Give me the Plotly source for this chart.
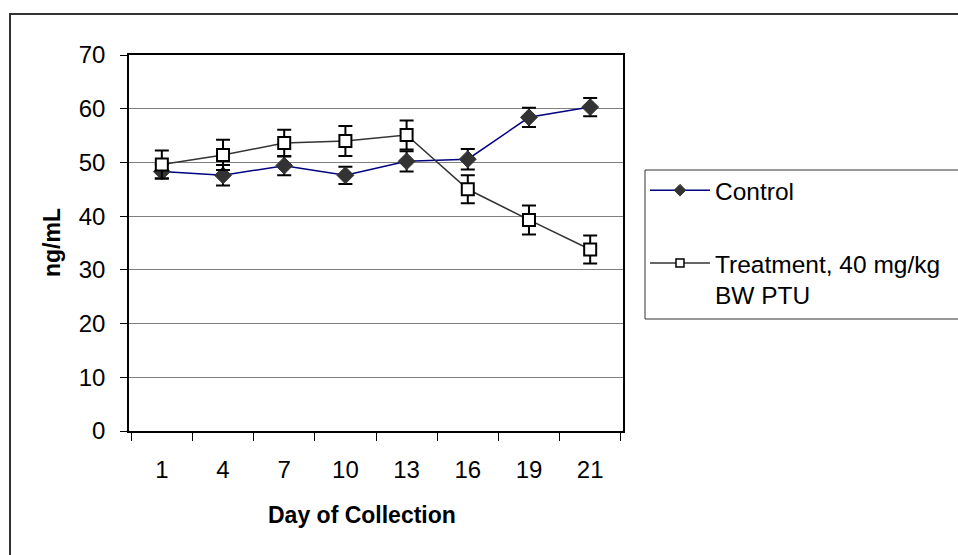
import plotly.graph_objects as go

days = ["1", "4", "7", "10", "13", "16", "19", "21"]
control = [48.3, 47.6, 49.4, 47.6, 50.2, 50.6, 58.4, 60.3]
control_err = [1.3, 1.9, 1.8, 1.6, 1.9, 1.9, 1.8, 1.7]
treatment = [49.6, 51.4, 53.6, 54.0, 55.1, 45.0, 39.3, 33.8]
treatment_err = [2.6, 2.8, 2.5, 2.8, 2.7, 2.6, 2.7, 2.6]
y_ticks = [0, 10, 20, 30, 40, 50, 60, 70]
names = ["Control", "Treatment, 40 mg/kg<br>BW PTU"]

FONT = "Liberation Sans, Arial, sans-serif"

ctrl_line = dict(color="#000080", width=1.5)
trt_line = dict(color="#333333", width=1.5)
ctrl_marker = dict(symbol="diamond", color="#333333", line=dict(color="#333333", width=1))
trt_marker = dict(symbol="square", color="white", line=dict(color="black", width=1.5))

fig = go.Figure()
fig.add_trace(go.Scatter(
    x=days, y=control, name=names[0], mode="lines+markers",
    showlegend=False, line=ctrl_line, marker=dict(size=13, **ctrl_marker),
    error_y=dict(type="data", array=control_err, visible=True,
                 color="black", thickness=2, width=7),
))
fig.add_trace(go.Scatter(
    x=days, y=treatment, name=names[1], mode="lines+markers",
    showlegend=False, line=trt_line,
    marker=dict(size=12, symbol="square", color="white",
                line=dict(color="black", width=2)),
    error_y=dict(type="data", array=treatment_err, visible=True,
                 color="black", thickness=2, width=7),
))
# legend entries (smaller symbols, as in the reference legend)
fig.add_trace(go.Scatter(
    x=[None], y=[None], name=names[0], mode="lines+markers",
    legendgroup="c", line=ctrl_line, marker=dict(size=9, **ctrl_marker),
))
fig.add_trace(go.Scatter(
    x=[None], y=[None], name=names[1], mode="lines+markers",
    legendgroup="t", line=trt_line, marker=dict(size=8, **trt_marker),
))

fig.update_layout(
    width=958, height=555,
    margin=dict(l=129, r=335, t=55, b=124),
    paper_bgcolor="white", plot_bgcolor="white",
    font=dict(family=FONT, size=24, color="black"),
    showlegend=True,
    legend=dict(
        x=1.0445, xanchor="left", y=0.70, yanchor="top",
        borderwidth=0, bgcolor="rgba(0,0,0,0)",
        traceorder="grouped", tracegroupgap=38, valign="top",
        itemwidth=60, font=dict(family=FONT, size=24.5, color="black"),
    ),
    xaxis=dict(
        type="category", categoryorder="array", categoryarray=days,
        tickson="boundaries", ticks="outside", ticklen=8, tickcolor="black",
        showline=True, linecolor="black", linewidth=1.5, mirror=True,
        showgrid=False, ticklabelstandoff=16,
        tickfont=dict(family=FONT, size=24),
    ),
    yaxis=dict(
        range=[0, 70], tickvals=y_ticks, ticks="outside", ticklen=7,
        tickcolor="black", showline=True, linecolor="black", linewidth=1.5,
        mirror=True, showgrid=True, gridcolor="#808080", gridwidth=1,
        zeroline=False, ticklabelstandoff=10,
        tickfont=dict(family=FONT, size=24),
    ),
    annotations=[
        dict(text="<b>Day of Collection</b>", xref="paper", yref="paper",
             x=(362 - 129) / 494, y=-(515 - 431) / 376, showarrow=False,
             xanchor="center", yanchor="middle",
             font=dict(family=FONT, size=23)),
        dict(text="<b>ng/mL</b>", xref="paper", yref="paper",
             x=-(129 - 52) / 494, y=0.5, textangle=-90, showarrow=False,
             xanchor="center", yanchor="middle",
             font=dict(family=FONT, size=23)),
    ],
    shapes=[
        # outer chart border
        dict(type="rect", xref="paper", yref="paper",
             x0=-(129 - 10) / 494, x1=1 + (970 - 623) / 494,
             y0=-(570 - 431) / 376, y1=1 + (55 - 14) / 376,
             line=dict(color="#333333", width=2), layer="below"),
        # legend box (runs past the right edge as in the reference)
        dict(type="rect", xref="paper", yref="paper",
             x0=(645 - 129) / 494, x1=1 + (975 - 623) / 494,
             y0=1 - (319 - 55) / 376, y1=1 - (170 - 55) / 376,
             line=dict(color="#333333", width=1), fillcolor="white",
             layer="below"),
    ],
)

fig.write_html(
    "out.html",
    config={"displayModeBar": False},
    post_script="document.body.style.margin='0';document.body.style.overflow='hidden';",
)
